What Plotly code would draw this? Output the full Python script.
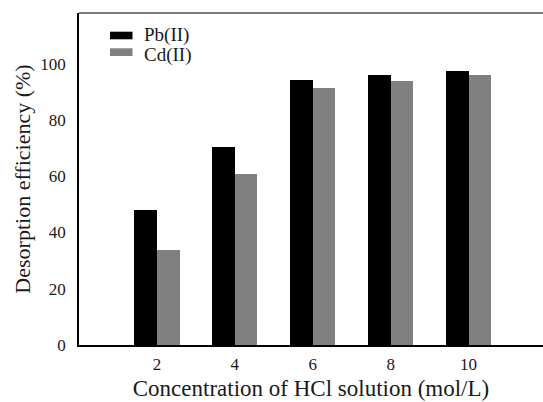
import plotly.graph_objects as go

concentrations = [2, 4, 6, 8, 10]
pb_values = [48.0, 70.5, 94.2, 96.0, 97.4]
cd_values = [33.7, 60.8, 91.5, 93.8, 96.0]
tick_labels = ["2", "4", "6", "8", "10"]
series_names = ["Pb(II)", "Cd(II)"]
series_colors = ["#000000", "#808080"]

FONT = "Liberation Serif"
BAR_W = 0.58
W, H = 543, 402
ML, MR, MT, MB = 79, 0, 13, 57
PW, PH = W - ML - MR, H - MT - MB


def px_x(x):
    return (x - ML) / PW


def px_y(y):
    return 1 - (y - MT) / PH


fig = go.Figure()
fig.add_trace(go.Bar(x=concentrations, y=pb_values, name=series_names[0],
                     marker=dict(color=series_colors[0], line=dict(width=0)),
                     width=BAR_W, offset=-BAR_W))
fig.add_trace(go.Bar(x=concentrations, y=cd_values, name=series_names[1],
                     marker=dict(color=series_colors[1], line=dict(width=0)),
                     width=BAR_W, offset=0))

fig.update_layout(
    width=W, height=H,
    margin=dict(l=ML, r=MR, t=MT, b=MB),
    paper_bgcolor="white", plot_bgcolor="white",
    font=dict(family=FONT, color="#1a1a1a", size=17),
    showlegend=False,
    bargap=0,
)
fig.update_xaxes(range=[0, 11.91], tickvals=concentrations, ticktext=tick_labels,
                 showgrid=False, zeroline=False, showline=True, linecolor="#000000",
                 linewidth=2, ticks="", ticklabelstandoff=3,
                 tickfont=dict(size=17, family=FONT),
                 title=dict(text="Concentration of HCl solution (mol/L)",
                            font=dict(size=23, family=FONT), standoff=6))
fig.update_yaxes(range=[0, 118], tickvals=[0, 20, 40, 60, 80, 100],
                 showgrid=False, zeroline=False, showline=True, linecolor="#000000",
                 linewidth=1.5, ticks="", ticklabelstandoff=8,
                 tickfont=dict(size=17, family=FONT),
                 title=dict(text="Desorption efficiency (%)",
                            font=dict(size=22, family=FONT), standoff=4))
# top frame line
fig.add_shape(type="line", xref="paper", yref="paper", x0=0, x1=1, y0=1, y1=1,
              line=dict(color="#4d4d4d", width=1.5))

# legend (swatches + labels)
legend_rows = [(31.7, 39.3, 34.5), (48.3, 56.0, 54.5)]
for (top, bot, mid), name, col in zip(legend_rows, series_names, series_colors):
    fig.add_shape(type="rect", xref="paper", yref="paper",
                  x0=px_x(110), x1=px_x(132.5), y0=px_y(bot), y1=px_y(top),
                  fillcolor=col, line=dict(width=0))
    fig.add_annotation(xref="paper", yref="paper", x=px_x(142), y=px_y(mid),
                       xanchor="left", yanchor="middle", showarrow=False,
                       text=name, font=dict(size=19, family=FONT, color="#1a1a1a"))

fig.write_html("out.html")
